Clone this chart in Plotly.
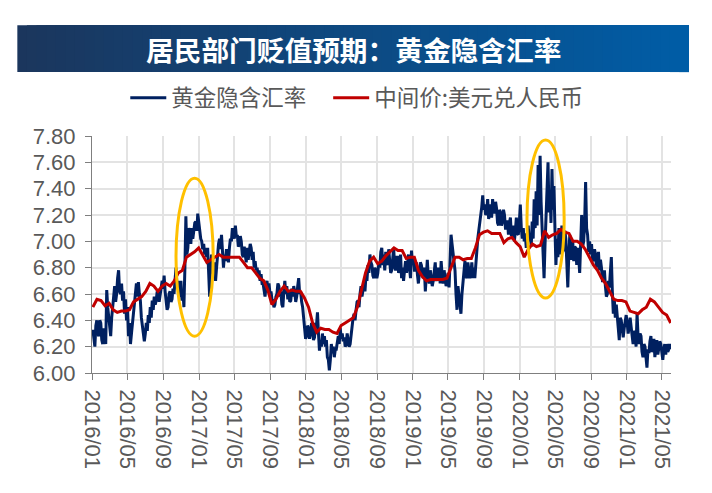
"""Gold-implied USD/CNY rate against the official central parity."""

import pandas as pd
import plotly.graph_objects as go

TITLE = "居民部门贬值预期：黄金隐含汇率"
GOLD_NAME = "黄金隐含汇率"
MID_NAME = "中间价:美元兑人民币"

# twice-weekly readings
gold_implied = [
    6.33, 6.24, 6.20, 6.36, 6.40, 6.30, 6.28, 6.40, 6.38, 6.25, 6.22, 6.34, 6.30, 6.22, 6.63, 6.50,
    6.44, 6.36, 6.28, 6.42, 6.50, 6.62, 6.66, 6.54, 6.60, 6.72, 6.78, 6.62, 6.60, 6.68, 6.55, 6.62,
    6.45, 6.56, 6.40, 6.50, 6.28, 6.38, 6.22, 6.30, 6.38, 6.46, 6.50, 6.60, 6.68, 6.58, 6.69, 6.60,
    6.55, 6.42, 6.35, 6.28, 6.24, 6.30, 6.38, 6.32, 6.44, 6.38, 6.50, 6.42, 6.55, 6.48, 6.58, 6.52,
    6.55, 6.62, 6.60, 6.54, 6.60, 6.66, 6.70, 6.64, 6.74, 6.62, 6.55, 6.48, 6.50, 6.60, 6.62, 6.54,
    6.56, 6.64, 6.60, 6.70, 6.80, 6.66, 6.70, 6.58, 6.62, 6.70, 6.55, 6.62, 6.50, 6.80, 7.19, 6.90,
    6.95, 7.10, 7.08, 6.98, 7.10, 7.02, 7.08, 7.14, 7.15, 7.08, 7.21, 7.14, 7.10, 7.02, 7.00, 6.94,
    6.98, 6.90, 6.95, 6.88, 6.95, 6.75, 6.58, 6.80, 6.90, 6.82, 6.75, 6.84, 6.70, 6.80, 6.90, 6.98,
    7.02, 6.94, 7.05, 6.90, 6.80, 6.90, 6.85, 6.94, 6.90, 6.84, 6.95, 7.02, 7.00, 7.10, 7.08, 7.02,
    7.12, 7.04, 7.05, 6.96, 6.98, 7.04, 7.00, 6.90, 6.88, 6.96, 6.90, 6.84, 6.95, 6.86, 6.92, 6.98,
    6.95, 6.86, 6.92, 6.80, 6.85, 6.78, 6.80, 6.74, 6.78, 6.70, 6.75, 6.68, 6.68, 6.60, 6.58, 6.66,
    6.70, 6.62, 6.68, 6.60, 6.62, 6.56, 6.55, 6.50, 6.52, 6.58, 6.60, 6.68, 6.66, 6.58, 6.62, 6.52,
    6.50, 6.62, 6.70, 6.60, 6.66, 6.56, 6.62, 6.54, 6.55, 6.64, 6.58, 6.66, 6.62, 6.54, 6.58, 6.66,
    6.72, 6.60, 6.62, 6.54, 6.50, 6.42, 6.35, 6.26, 6.28, 6.36, 6.34, 6.26, 6.30, 6.38, 6.33, 6.25,
    6.27, 6.38, 6.36, 6.46, 6.30, 6.17, 6.25, 6.20, 6.30, 6.22, 6.28, 6.20, 6.25, 6.12, 6.10, 6.02,
    6.10, 6.22, 6.15, 6.20, 6.12, 6.18, 6.18, 6.24, 6.28, 6.22, 6.34, 6.26, 6.30, 6.24, 6.27, 6.20,
    6.22, 6.30, 6.26, 6.20, 6.22, 6.30, 6.35, 6.42, 6.45, 6.40, 6.48, 6.54, 6.55, 6.50, 6.60, 6.66,
    6.58, 6.64, 6.68, 6.62, 6.74, 6.70, 6.82, 6.76, 6.90, 6.84, 6.82, 6.74, 6.72, 6.80, 6.78, 6.72,
    6.76, 6.84, 6.80, 6.92, 6.95, 6.82, 6.90, 6.78, 6.92, 6.84, 6.82, 6.94, 6.85, 6.76, 6.78, 6.90,
    6.95, 6.80, 6.78, 6.88, 6.88, 6.76, 6.80, 6.90, 6.72, 6.80, 6.70, 6.78, 6.85, 6.76, 6.82, 6.90,
    6.80, 6.72, 6.93, 6.82, 6.88, 6.78, 6.78, 6.84, 6.75, 6.68, 6.76, 6.84, 6.82, 6.74, 6.72, 6.80,
    6.62, 6.74, 6.86, 6.72, 6.68, 6.78, 6.72, 6.66, 6.70, 6.78, 6.84, 6.70, 6.72, 6.80, 6.78, 6.68,
    6.85, 6.74, 6.68, 6.78, 6.72, 6.66, 6.70, 6.76, 6.65, 6.90, 7.05, 6.98, 6.92, 6.84, 6.78, 6.60,
    6.48, 6.66, 6.60, 6.52, 6.45, 6.60, 6.70, 6.80, 6.85, 6.74, 6.72, 6.84, 6.78, 6.72, 6.75, 6.84,
    6.72, 6.80, 6.72, 6.84, 6.98, 7.02, 7.08, 7.14, 7.16, 7.26, 7.35, 7.24, 7.28, 7.20, 7.22, 7.32,
    7.17, 7.24, 7.28, 7.18, 7.32, 7.22, 7.22, 7.30, 7.25, 7.14, 7.12, 7.24, 7.22, 7.12, 7.15, 7.24,
    7.20, 7.10, 7.10, 7.16, 7.05, 7.14, 7.18, 7.04, 7.05, 7.12, 7.00, 7.08, 7.18, 7.06, 7.05, 7.14,
    7.28, 7.10, 7.02, 7.10, 7.00, 7.06, 6.95, 7.04, 7.12, 7.00, 7.05, 6.96, 7.15, 7.02, 7.32, 7.10,
    7.38, 7.12, 7.58, 7.20, 7.65, 7.30, 7.12, 6.90, 6.72, 6.98, 7.20, 7.42, 7.60, 7.22, 7.38, 7.14,
    7.55, 7.24, 7.42, 7.10, 6.82, 7.02, 6.88, 7.10, 7.00, 6.90, 7.12, 6.92, 6.95, 7.08, 7.02, 6.84,
    6.65, 6.90, 7.05, 6.86, 6.90, 7.00, 6.85, 6.96, 6.95, 6.82, 6.95, 6.88, 6.76, 6.98, 7.20, 6.96,
    7.00, 7.14, 7.45, 7.10, 7.05, 6.92, 7.00, 6.90, 6.98, 6.86, 6.85, 6.94, 6.90, 6.80, 6.85, 6.92,
    6.78, 6.86, 6.80, 6.70, 6.70, 6.78, 6.66, 6.58, 6.60, 6.70, 6.65, 6.76, 6.88, 6.62, 6.45, 6.56,
    6.42, 6.52, 6.45, 6.34, 6.25, 6.42, 6.40, 6.30, 6.27, 6.34, 6.38, 6.44, 6.38, 6.30, 6.35, 6.42,
    6.35, 6.26, 6.22, 6.32, 6.30, 6.20, 6.45, 6.28, 6.22, 6.30, 6.28, 6.16, 6.12, 6.22, 6.20, 6.12,
    6.04, 6.18, 6.15, 6.24, 6.28, 6.16, 6.18, 6.26, 6.12, 6.20, 6.25, 6.14, 6.18, 6.24, 6.22, 6.14,
    6.10, 6.18, 6.22, 6.14, 6.22, 6.16, 6.18, 6.22, 6.18,
]

# fortnightly readings
usd_cny_mid = [
    6.50, 6.56, 6.55, 6.51, 6.53, 6.48, 6.46, 6.47, 6.47, 6.48, 6.54, 6.56, 6.58, 6.62, 6.68, 6.66,
    6.62, 6.66, 6.68, 6.66, 6.70, 6.76, 6.78, 6.88, 6.90, 6.92, 6.95, 6.90, 6.84, 6.86, 6.88, 6.90,
    6.88, 6.88, 6.88, 6.88, 6.88, 6.84, 6.80, 6.80, 6.76, 6.72, 6.70, 6.63, 6.52, 6.56, 6.62, 6.66,
    6.62, 6.63, 6.62, 6.62, 6.57, 6.50, 6.38, 6.31, 6.34, 6.33, 6.33, 6.31, 6.30, 6.36, 6.38, 6.40,
    6.42, 6.50, 6.64, 6.76, 6.85, 6.88, 6.83, 6.85, 6.89, 6.92, 6.95, 6.93, 6.93, 6.87, 6.88, 6.88,
    6.78, 6.73, 6.70, 6.71, 6.71, 6.71, 6.71, 6.72, 6.80, 6.88, 6.88, 6.86, 6.87, 6.87, 6.95, 7.05,
    7.07, 7.08, 7.06, 7.06, 7.06, 6.99, 7.02, 7.03, 6.99, 6.96, 6.88, 6.94, 6.98, 6.96, 6.97, 7.08,
    7.03, 7.05, 7.06, 7.09, 7.07, 7.06, 7.00, 7.00, 6.98, 6.94, 6.88, 6.82, 6.78, 6.72, 6.68, 6.62,
    6.56, 6.55, 6.55, 6.54, 6.47, 6.46, 6.45, 6.48, 6.50, 6.56, 6.54, 6.50, 6.46, 6.44, 6.38,
]

# ringed episodes: (first date, last date, low, high)
rings = [
    ("2016-10-14", "2017-02-18", 6.28, 7.48),
    ("2020-01-26", "2020-06-01", 6.57, 7.77),
]

Y_TICKS = [6.0, 6.2, 6.4, 6.6, 6.8, 7.0, 7.2, 7.4, 7.6, 7.8]
W, H = 712, 493
PLOT_L, PLOT_R, PLOT_T, PLOT_B = 91.7, 671, 136, 373.3


def paper_x(px):
    return (px - PLOT_L) / (PLOT_R - PLOT_L)


def paper_y(py):
    return (PLOT_B - py) / (PLOT_B - PLOT_T)


def band_shapes(n=70):
    # plotly shapes have no gradient, so paint overlapping slices left to right
    left, right = (27, 54, 93), (0, 93, 166)
    x0, x1 = 17, 689
    out = []
    for i in range(n):
        t = i / (n - 1)
        rgb = [round(a + (b - a) * t) for a, b in zip(left, right)]
        out.append(dict(
            type="rect", xref="paper", yref="paper", layer="below",
            x0=paper_x(x0 + (x1 - x0) * i / n), x1=paper_x(x1),
            y0=paper_y(72), y1=paper_y(25),
            fillcolor=f"rgb({rgb[0]},{rgb[1]},{rgb[2]})", line_width=0,
        ))
    return out


def legend_at(px):
    return dict(
        orientation="h", xref="paper", yref="paper", x=paper_x(px), y=paper_y(98),
        xanchor="left", yanchor="middle", bgcolor="rgba(0,0,0,0)",
        font=dict(family="Noto Sans CJK SC", size=22.5, color="#595959"),
        itemwidth=36,
    )


fig = go.Figure()
fig.add_trace(go.Scatter(
    x=pd.date_range("2016-01-04", "2021-05-31", periods=len(gold_implied)),
    y=gold_implied, mode="lines", name=GOLD_NAME, legend="legend", showlegend=True,
    line=dict(color="#002060", width=3),
))
# two legends, the built-in one has no setting for the gap between entries
fig.add_trace(go.Scatter(
    x=pd.date_range("2016-01-04", "2021-05-31", periods=len(usd_cny_mid)),
    y=usd_cny_mid, mode="lines", name=MID_NAME, legend="legend2", showlegend=True,
    line=dict(color="#C00000", width=3),
))

ring_shapes = [
    dict(type="circle", xref="x", yref="y", layer="above", x0=a, x1=b, y0=lo, y1=hi,
         line=dict(color="#FFC000", width=3))
    for a, b, lo, hi in rings
]

fig.update_layout(
    width=W, height=H, showlegend=True,
    margin=dict(l=PLOT_L, r=W - PLOT_R, t=PLOT_T, b=H - PLOT_B, autoexpand=False),
    paper_bgcolor="white", plot_bgcolor="white",
    font=dict(family="Liberation Sans, Noto Sans CJK SC", color="#595959"),
    shapes=band_shapes() + ring_shapes,
    annotations=[dict(
        text=f"<b>{TITLE}</b>", xref="paper", yref="paper", x=paper_x(353.5), y=paper_y(48.5),
        showarrow=False, xanchor="center", yanchor="middle",
        font=dict(family="Noto Sans CJK SC", size=27.7, color="white"),
    )],
    legend=legend_at(125),
    legend2=legend_at(328),
    xaxis=dict(
        type="date", range=["2016-01-01", "2021-06-01"], dtick="M4", tick0="2016-01-01",
        tickformat="%Y/%m", tickangle=90, ticks="outside", ticklen=6, tickcolor="#7f7f7f",
        showline=True, linecolor="#7f7f7f", linewidth=1.2, ticklabelstandoff=5,
        showgrid=True, gridcolor="#e3e3e3", gridwidth=1.5,
        tickfont=dict(size=22, color="#595959"),
    ),
    yaxis=dict(
        range=[6.0, 7.8], tickvals=Y_TICKS, tickformat=".2f", ticks="outside", ticklen=6,
        tickcolor="#7f7f7f", showline=True, linecolor="#7f7f7f", linewidth=1.2,
        showgrid=True, gridcolor="#e3e3e3", gridwidth=1.5, ticklabelstandoff=5,
        tickfont=dict(size=22, color="#595959"), zeroline=False,
    ),
)

fig.write_html(
    "out.html",
    config=dict(displayModeBar=False),
    post_script="document.body.style.margin = '0';",
)
